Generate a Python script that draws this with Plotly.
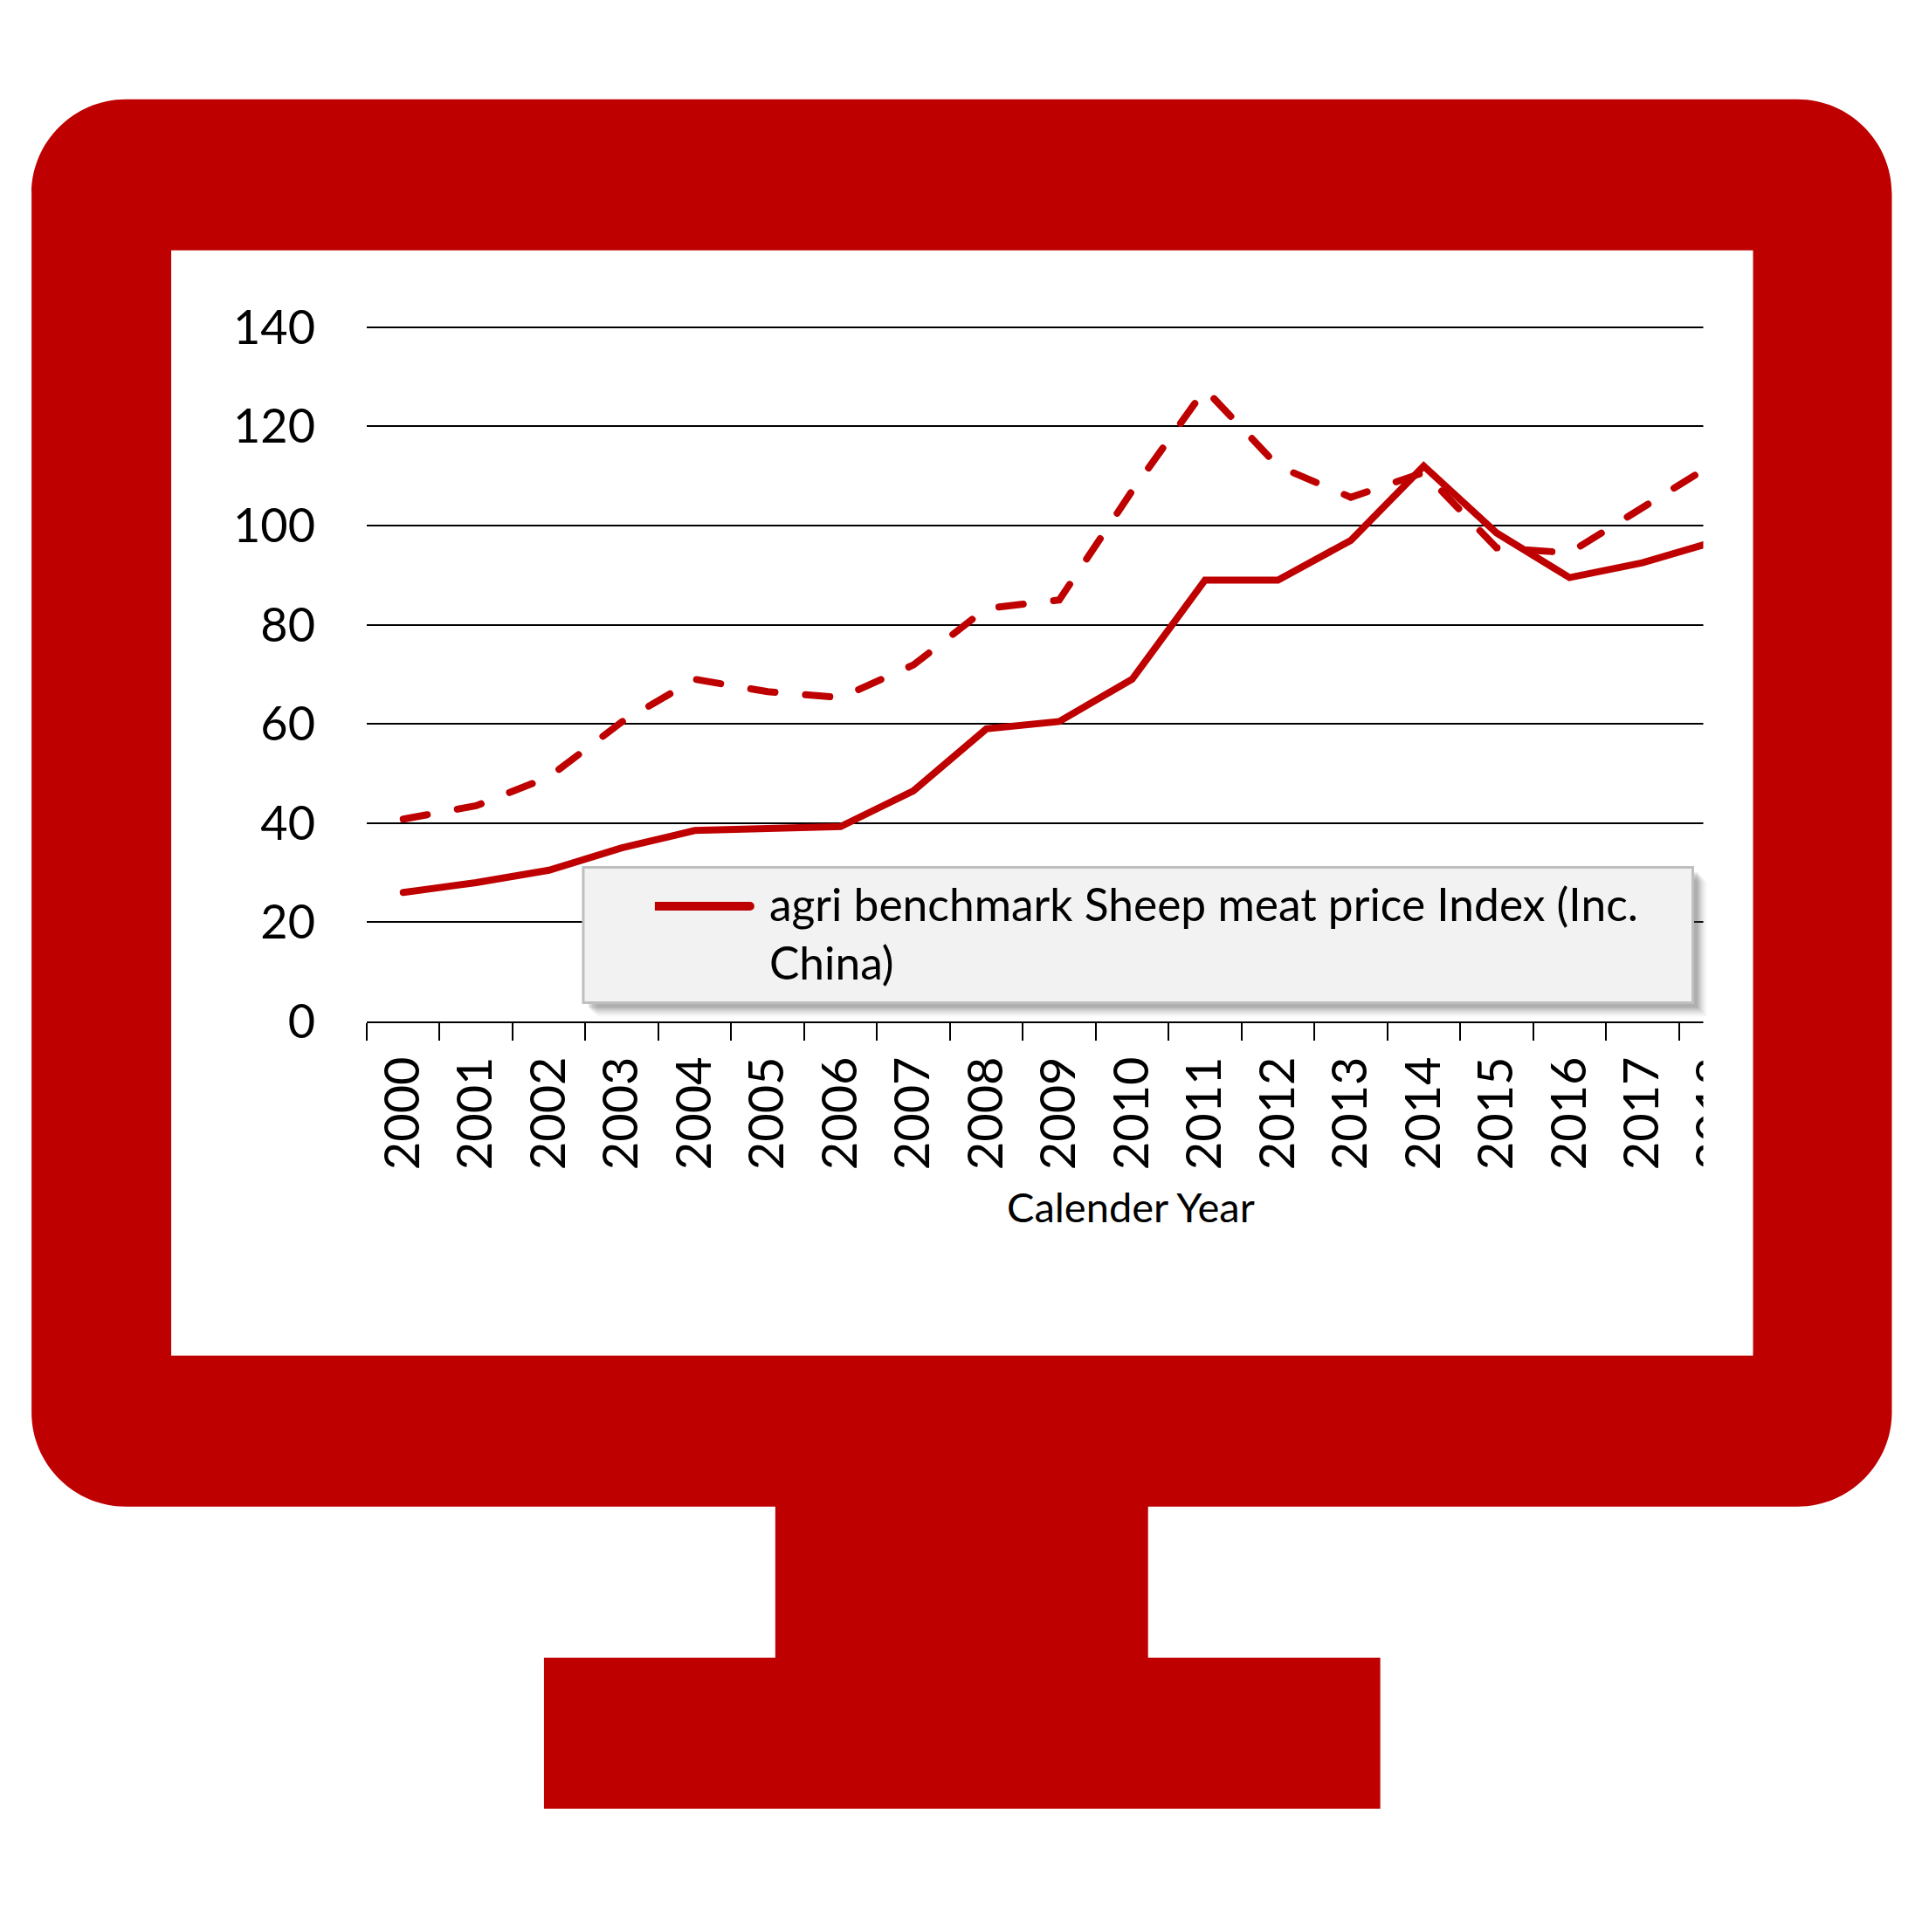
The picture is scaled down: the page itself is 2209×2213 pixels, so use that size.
import plotly.graph_objects as go

YEARS = [str(y) for y in range(2000, 2019)]
PRICE_INDEX = [26, 28, 30.5, 35, 38.5, 39, 39.3, 46.5, 59, 60.5, 69, 89, 89, 97, 112, 98.5, 89.5, 92.5, 96.8]
PRICE_INDEX_DASHED = [40.8, 43.5, 49.3, 60.4, 69, 66.5, 65.3, 71.9, 83.3, 85, 107, 127.5, 112, 105.7, 110.7, 95.5, 94.5, 103.8, 112.7]
Y_TICKS = [0, 20, 40, 60, 80, 100, 120, 140]
LEGEND_NAME = "agri benchmark Sheep meat price Index (Inc.<br>China)"
X_TITLE = "Calender Year"

RED = "#BE0000"
FONT = "Lato"
W, H = 2209, 2213
Y_TOP = 150
L, R, T, B = 420, 2006.5, 318.2, 1170.5


def px(x):
    return (x - L) / (R - L)


def py(y):
    return (B - y) / (B - T)


def rect(x0, y0, x1, y1, fill, line=None, lw=0, opacity=1):
    return dict(type="rect", xref="paper", yref="paper", x0=px(x0), x1=px(x1), y0=py(y0), y1=py(y1),
                fillcolor=fill, line=dict(color=line, width=lw) if line else dict(width=0),
                layer="above", opacity=opacity)


def rounded(x0, y0, x1, y1, r):
    k = 0.45 * r
    pts = [("M", x0 + r, y0), ("L", x1 - r, y0),
           ("C", x1 - k, y0, x1, y0 + k, x1, y0 + r), ("L", x1, y1 - r),
           ("C", x1, y1 - k, x1 - k, y1, x1 - r, y1), ("L", x0 + r, y1),
           ("C", x0 + k, y1, x0, y1 - k, x0, y1 - r), ("L", x0, y0 + r),
           ("C", x0, y0 + k, x0 + k, y0, x0 + r, y0)]
    out = []
    for p in pts:
        vals = p[1:]
        coords = [f"{px(vals[i]):.5f},{py(vals[i + 1]):.5f}" for i in range(0, len(vals), 2)]
        out.append(p[0] + " ".join(coords))
    return " ".join(out) + " Z"


IN_L, IN_T, IN_R, IN_B = 196, 287, 2008, 1553.5
shapes = []
# clip of the chart at its right edge
shapes.append(rect(1951, 300, IN_R, 1540, "white"))
# legend shadow and box
for off, op in [(16, 0.04), (14, 0.05), (12, 0.07), (10, 0.09), (8, 0.11), (6, 0.14)]:
    shapes.append(rect(668 + off, 994 + off, 1939 + off, 1149 + off, "#404040", opacity=op))
shapes.append(rect(668, 994, 1939, 1149, "#F2F2F2", "#BFBFBF", 3))
# monitor
shapes.append(dict(type="path", xref="paper", yref="paper", layer="above", fillcolor=RED, line=dict(width=0),
                   fillrule="evenodd",
                   path=rounded(36, 114, 2167, 1726.5, 108) + " M{:.5f},{:.5f} L{:.5f},{:.5f} L{:.5f},{:.5f} L{:.5f},{:.5f} Z".format(
                       px(IN_L), py(IN_T), px(IN_R), py(IN_T), px(IN_R), py(IN_B), px(IN_L), py(IN_B))))
shapes.append(rect(888, 1725, 1315, 1900, RED))
shapes.append(rect(623, 1899.5, 1581, 2072.5, RED))

fig = go.Figure()
fig.add_trace(go.Scatter(x=YEARS, y=PRICE_INDEX_DASHED, mode="lines", showlegend=False,
                         line=dict(color=RED, width=8, dash="28px,35px")))
fig.add_trace(go.Scatter(x=YEARS, y=PRICE_INDEX, mode="lines", name=LEGEND_NAME,
                         line=dict(color=RED, width=8)))

fig.update_layout(
    width=W, height=H, autosize=False,
    margin=dict(l=L, r=W - R, t=T, b=H - B, pad=0),
    paper_bgcolor="white", plot_bgcolor="white",
    font=dict(family=FONT, color="black", size=54),
    shapes=shapes,
    legend=dict(x=px(750), y=py(995), xanchor="left", yanchor="top", bgcolor="rgba(0,0,0,0)",
                borderwidth=0, itemwidth=121, font=dict(family=FONT, size=51.5, color="black"),
                itemclick=False, itemdoubleclick=False),
    annotations=[dict(text=X_TITLE, xref="paper", yref="paper", x=px(1295), y=py(1383), xanchor="center",
                      yanchor="middle", showarrow=False, font=dict(family=FONT, size=47, color="black"))],
    xaxis=dict(type="category", categoryorder="array", categoryarray=YEARS, range=[-0.5, 18.5],
               tickson="boundaries", ticks="outside", ticklen=20, tickwidth=1.5, tickcolor="black",
               tickangle=-90, showline=True, linecolor="black", linewidth=2, showgrid=False,
               tickfont=dict(family=FONT, size=56, color="black"), ticklabelstandoff=16, automargin=False),
    yaxis=dict(range=[0, Y_TOP], tickvals=Y_TICKS, ticktext=[str(v) for v in Y_TICKS], showgrid=True,
               gridcolor="black", gridwidth=1.7, zeroline=False, showline=False, ticks="",
               tickfont=dict(family=FONT, size=54, color="black"), ticklabelstandoff=58, automargin=False),
)
POST = """
document.body.style.margin='0';
document.querySelectorAll('.scatterlayer .js-line').forEach(function(p){p.style.strokeLinecap='round';});
document.querySelectorAll('.legendlines').forEach(function(g){
  g.setAttribute('transform','translate(-7,-30)');
  g.querySelectorAll('path').forEach(function(p){p.style.strokeWidth='10px';p.style.strokeLinecap='round';p.style.strokeDasharray='111,300';});
});
"""
fig.write_html("out.html", post_script=POST, config=dict(displayModeBar=False))
